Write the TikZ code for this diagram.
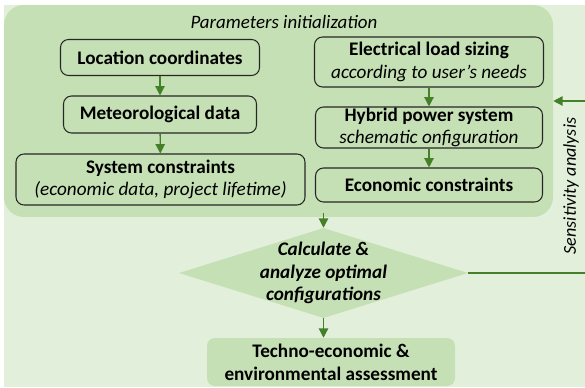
\documentclass[tikz,border=0pt]{standalone}
\usepackage{fontspec}
\setmainfont{Carlito}
\usetikzlibrary{arrows.meta,shapes.geometric}
\definecolor{bglight}{RGB}{226,239,218}
\definecolor{bgdark}{RGB}{197,224,180}
\definecolor{flowgreen}{RGB}{67,128,40}

\begin{document}
\begin{tikzpicture}[x=0.75pt, y=-0.75pt,
	box/.style={draw=black!85, line width=0.8pt, rounded corners=6pt, fill=bgdark, align=center, inner sep=0pt, font=\fontsize{14.4}{17}\selectfont},
	flow/.style={-{Triangle[length=7pt,width=7pt]}, draw=flowgreen, line width=1pt}]

\useasboundingbox (0,0) rectangle (585,388);

% background
\fill[bglight] (4,5) rectangle (585,387);

% parameters panel
\node[fill=bgdark, rounded corners=15pt, inner sep=0pt, minimum width=549*0.75pt, minimum height=212*0.75pt] (panel) at (278.5,111) {};
\node[font=\fontsize{14.2}{17}\selectfont\itshape] (title) at (284,22) {Parameters initialization};

% left column
\node[box, minimum width=199*0.75pt, minimum height=36*0.75pt] (loc) at (160,57.5) {\textbf{Location coordinates}};
\node[box, minimum width=193*0.75pt, minimum height=37*0.75pt] (met) at (160,114.5) {\textbf{Meteorological data}};
\node[box, minimum width=289*0.75pt, minimum height=51*0.75pt] (sys) at (160.5,179.5) {\textbf{System constraints}\\\textit{(economic data, project lifetime)}};

% right column
\node[box, minimum width=229*0.75pt, minimum height=50*0.75pt] (elec) at (429,62) {\textbf{Electrical load sizing}\\\textit{according to user's needs}};
\node[box, minimum width=227*0.75pt, minimum height=41*0.75pt] (hyb) at (429,127.5) {\textbf{Hybrid power system}\\\textit{schematic onfiguration}};
\node[box, minimum width=227*0.75pt, minimum height=34*0.75pt] (eco) at (429,185) {\textbf{Economic constraints}};

\draw[flow] (loc) -- (met);
\draw[flow] (met) -- (sys);
\draw[flow] (elec) -- (hyb);
\draw[flow] (hyb) -- (eco);

% decision
\node[diamond, fill=bgdark, inner sep=0pt, minimum width=289*0.75pt, minimum height=90*0.75pt] (calc) at (323.5,273) {};
\node[align=center, font=\fontsize{14.4}{17}\selectfont\bfseries\itshape] (calctext) at (calc) {Calculate \&\\analyze optimal\\configurations};
\draw[flow] ([yshift=3pt]panel.south -| calc.north) -- (calc.north);

% assessment
\node[fill=bgdark, rounded corners=6pt, align=center, inner sep=0pt, minimum width=248*0.75pt, minimum height=48*0.75pt, font=\fontsize{14.4}{17}\selectfont\bfseries] (assess) at (331,362) {Techno-economic \&\\environmental assessment};
\draw[flow] (calc.south) -- (calc.south |- assess.north);

% sensitivity loop
\coordinate (loopR) at (586,273);
\coordinate (loopT) at (586,101);
\draw[flow] (calc.east) -- (loopR) -- (loopT) -- (panel.east |- loopT);
\node[rotate=90, font=\fontsize{13.6}{16}\selectfont\itshape] (sens) at (571,186) {Sensitivity analysis};

\end{tikzpicture}
\end{document}
